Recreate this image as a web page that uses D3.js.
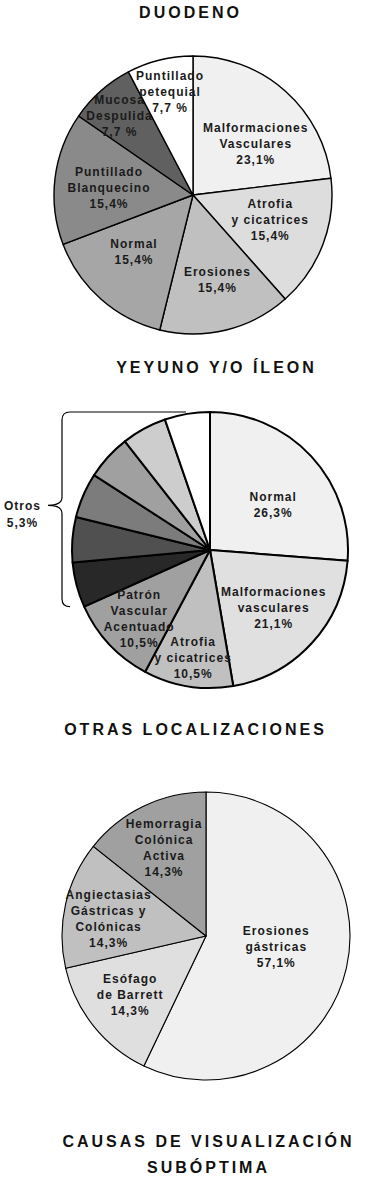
<!DOCTYPE html>
<html>
<head>
<meta charset="utf-8">
<script src="https://cdn.jsdelivr.net/npm/d3@7"></script>
<style>
  body { margin: 0; background: #fff; }
  svg { display: block; font-family: "Liberation Sans", Arial, sans-serif; }
  .title { font-size: 16px; font-weight: bold; letter-spacing: 3px; fill: #111; }
  .lbl { font-size: 12px; font-weight: bold; letter-spacing: 1px; fill: #1a1a1a; }
</style>
</head>
<body>
<div id="chart"></div>
<script>
// ---- data ----
const duodenoLabels = ["Malformaciones\nVasculares\n23,1%", "Atrofia\ny cicatrices\n15,4%", "Erosiones\n15,4%",
  "Normal\n15,4%", "Puntillado\nBlanquecino\n15,4%", "Mucosa\nDespulida\n7,7 %", "Puntillado\npetequial\n7,7 %"];
const duodenoValues = [23.1, 15.4, 15.4, 15.4, 15.4, 7.7, 7.7];

const yeyunoLabels = ["Normal\n26,3%", "Malformaciones\nvasculares\n21,1%", "Atrofia\ny cicatrices\n10,5%",
  "Patrón\nVascular\nAcentuado\n10,5%", "", "", "", "", "", ""];
const yeyunoValues = [26.3, 21.1, 10.5, 10.5, 5.3, 5.3, 5.3, 5.3, 5.3, 5.3];
const otrosLabel = "Otros\n5,3%";

const otrasLabels = ["Erosiones\ngástricas\n57,1%", "Esófago\nde Barrett\n14,3%",
  "Angiectasias\nGástricas y\nColónicas\n14,3%", "Hemorragia\nColónica\nActiva\n14,3%"];
const otrasValues = [57.1, 14.3, 14.3, 14.3];

const titles = ["DUODENO", "YEYUNO Y/O ÍLEON", "OTRAS LOCALIZACIONES", "CAUSAS DE VISUALIZACIÓN", "SUBÓPTIMA"];

// ---- layout ----
const W = 381, H = 1177;
const svg = d3.select("#chart").append("svg").attr("width", W).attr("height", H);

function title(text, x, y) {
  svg.append("text").attr("class", "title")
    .attr("x", x + 1.5).attr("y", y).attr("text-anchor", "middle").text(text);
}

function multiline(g, text, x, y, lh) {
  const lines = text.split("\n");
  const t = g.append("text").attr("class", "lbl").attr("text-anchor", "middle");
  lines.forEach((s, i) => {
    t.append("tspan").attr("x", x + 0.5)
      .attr("y", y + (i - (lines.length - 1) / 2) * lh)
      .attr("dy", "0.36em").text(s);
  });
}

function drawPie(cfg) {
  const g = svg.append("g").attr("transform", `translate(${cfg.cx},${cfg.cy})`);
  const pie = d3.pie().sort(null).value(d => d);
  const arcs = pie(cfg.values);
  const arc = d3.arc().innerRadius(0).outerRadius(cfg.r);

  g.selectAll("path.slice")
    .data(arcs)
    .join("path")
    .attr("class", "slice")
    .attr("d", arc)
    .attr("fill", (d, i) => cfg.colors[i])
    .attr("stroke", "#000")
    .attr("stroke-width", cfg.stroke)
    .attr("stroke-linejoin", "round");

  arcs.forEach((d, i) => {
    if (!cfg.labels[i]) return;
    const a = (d.startAngle + d.endAngle) / 2 + cfg.turn[i] * Math.PI / 180;
    const rr = cfg.r * cfg.labelR[i];
    multiline(g, cfg.labels[i], rr * Math.sin(a), -rr * Math.cos(a), 16);
  });
  return { g, arcs };
}

// Duodeno
title(titles[0], 189, 18);
drawPie({
  cx: 193, cy: 195, r: 139, stroke: 1.4,
  values: duodenoValues, labels: duodenoLabels,
  colors: ["#f0f0f0", "#dddddd", "#c0c0c0", "#a6a6a6", "#8a8a8a", "#606060", "#ffffff"],
  labelR: [0.58, 0.58, 0.63, 0.59, 0.61, 0.78, 0.76],
  turn: [9, -3, -2, 5, -2, -1.5, 1]
});

// Yeyuno y/o íleon
title(titles[1], 215, 373);
const yey = drawPie({
  cx: 210, cy: 550, r: 138, stroke: 2,
  values: yeyunoValues, labels: yeyunoLabels,
  colors: ["#f0f0f0", "#e0e0e0", "#c0c0c0", "#a0a0a0",
    "#282828", "#505050", "#7c7c7c", "#a0a0a0", "#cdcdcd", "#ffffff"],
  labelR: [0.56, 0.62, 0.79, 0.72, 0, 0, 0, 0, 0, 0],
  turn: [7, 0, 0, -1, 0, 0, 0, 0, 0, 0]
});
// brace over the "Otros" slices
(function () {
  const startA = yey.arcs[4].startAngle;
  const r = 138, cx = 210, cy = 550;
  const yTop = cy - r;
  const yBot = cy - r * Math.cos(startA);
  const yMid = (yTop + yBot) / 2 - 4;
  const x = 62, tip = 48, k = 8;
  const p = d3.path();
  p.moveTo(cx - 24, yTop);
  p.lineTo(x + k, yTop);
  p.quadraticCurveTo(x, yTop, x, yTop + k);
  p.lineTo(x, yMid - k);
  p.quadraticCurveTo(x, yMid, tip, yMid);
  p.quadraticCurveTo(x, yMid, x, yMid + k);
  p.lineTo(x, yBot - k);
  p.quadraticCurveTo(x, yBot, x + k, yBot);
  svg.append("path").attr("d", p.toString())
    .attr("fill", "none").attr("stroke", "#000").attr("stroke-width", 1.2);
  multiline(svg, otrosLabel, 22, yMid + 9, 17);
})();

// Otras localizaciones
title(titles[2], 194, 735);
drawPie({
  cx: 206, cy: 936, r: 144, stroke: 1.1,
  values: otrasValues, labels: otrasLabels,
  colors: ["#f0f0f0", "#dfdfdf", "#c0c0c0", "#a0a0a0"],
  labelR: [0.49, 0.67, 0.69, 0.68],
  turn: [-4, 1, -3, 0]
});

title(titles[3], 207, 1147);
title(titles[4], 207, 1173);
</script>
</body>
</html>
